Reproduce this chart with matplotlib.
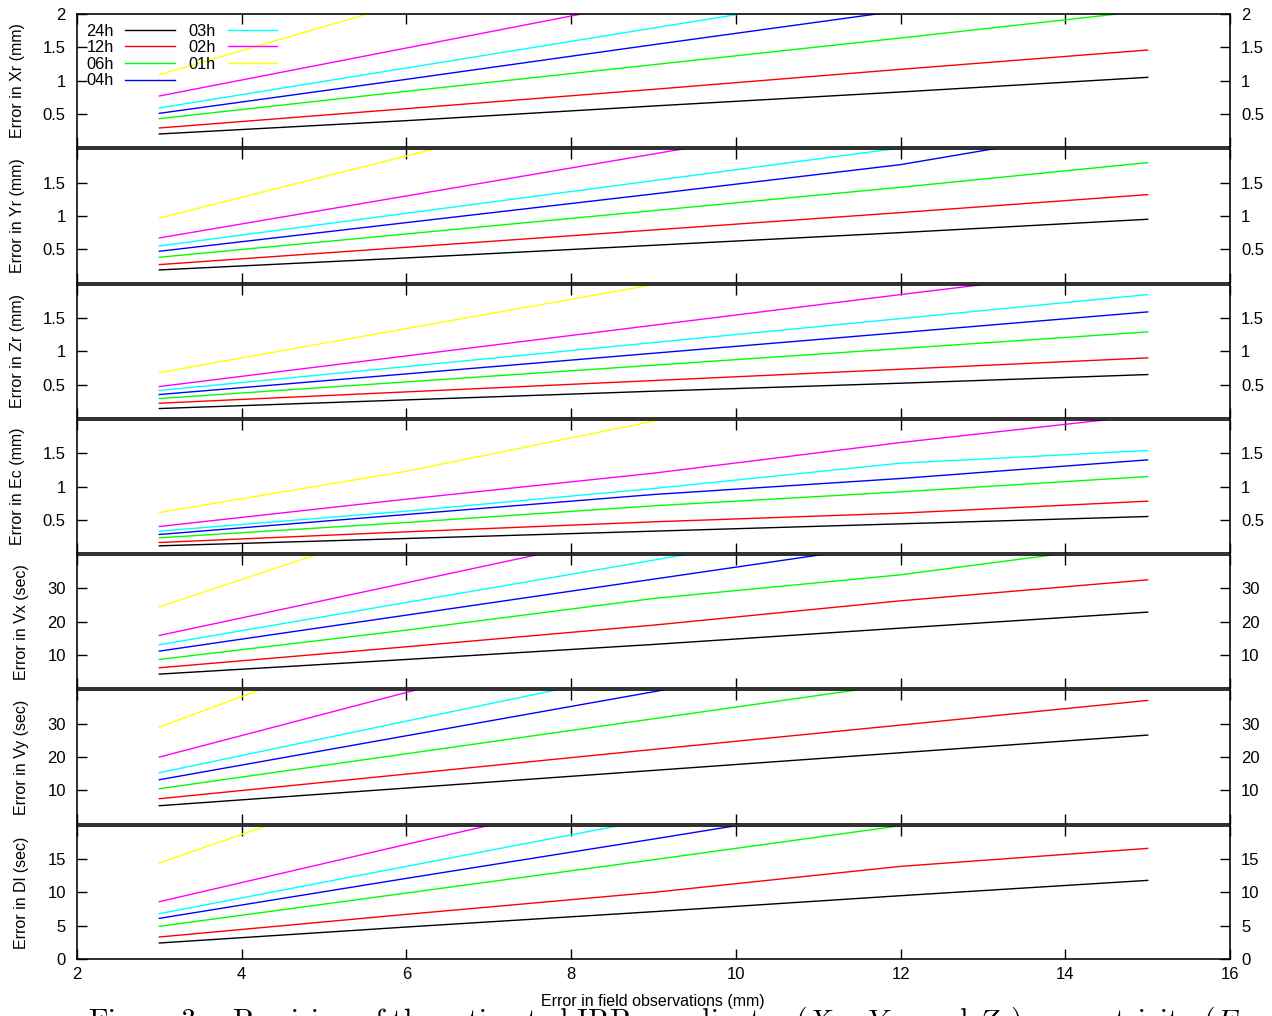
import numpy as np
import matplotlib
matplotlib.use('Agg')
import matplotlib.pyplot as plt

plt.rcParams['font.family'] = ['Liberation Sans', 'DejaVu Sans']
plt.rcParams['mathtext.fontset'] = 'cm'

# error in field observations (mm)
obs = [3, 6, 9, 12, 15]
series = ['24h', '12h', '06h', '04h', '03h', '02h', '01h']
colors = ['#000000', '#ff0000', '#00ff00', '#0000ff', '#00ffff', '#ff00ff', '#ffff00']

xr = [[0.20, 0.40, 0.62, 0.83, 1.05],
      [0.29, 0.58, 0.87, 1.17, 1.46],
      [0.43, 0.84, 1.24, 1.64, 2.05],
      [0.51, 1.02, 1.54, 2.05, 2.56],
      [0.59, 1.19, 1.79, 2.39, 2.99],
      [0.77, 1.49, 2.21, 2.93, 3.65],
      [1.09, 2.17, 3.25, 4.33, 5.41]]
yr = [[0.19, 0.37, 0.56, 0.75, 0.95],
      [0.27, 0.53, 0.79, 1.05, 1.32],
      [0.38, 0.73, 1.08, 1.43, 1.80],
      [0.47, 0.90, 1.33, 1.77, 2.40],
      [0.55, 1.04, 1.53, 2.02, 2.51],
      [0.67, 1.30, 1.93, 2.56, 3.19],
      [0.97, 1.90, 2.84, 3.77, 4.70]]
zr = [[0.14, 0.27, 0.40, 0.52, 0.65],
      [0.22, 0.39, 0.56, 0.73, 0.90],
      [0.29, 0.54, 0.79, 1.04, 1.29],
      [0.35, 0.66, 0.97, 1.28, 1.59],
      [0.41, 0.77, 1.13, 1.49, 1.85],
      [0.47, 0.93, 1.39, 1.85, 2.30],
      [0.68, 1.34, 2.00, 2.66, 3.31]]
ec = [[0.11, 0.22, 0.33, 0.44, 0.55],
      [0.16, 0.32, 0.47, 0.60, 0.78],
      [0.23, 0.46, 0.71, 0.92, 1.15],
      [0.28, 0.58, 0.88, 1.12, 1.40],
      [0.33, 0.63, 0.97, 1.35, 1.54],
      [0.40, 0.81, 1.20, 1.66, 2.07],
      [0.61, 1.23, 1.98, 2.75, 3.50]]
vx = [[4.3, 8.7, 13.2, 18.1, 22.9],
      [6.2, 12.5, 19.0, 26.3, 32.6],
      [8.7, 17.5, 27.0, 34.1, 43.8],
      [11.2, 22.0, 32.8, 43.6, 54.4],
      [13.1, 25.8, 38.5, 51.2, 63.9],
      [15.9, 31.7, 47.6, 63.4, 79.2],
      [24.5, 49.1, 73.7, 98.3, 122.9]]
vy = [[5.4, 10.7, 16.0, 21.3, 26.6],
      [7.5, 14.9, 22.3, 29.6, 37.0],
      [10.5, 21.0, 31.5, 42.0, 52.5],
      [13.2, 26.4, 39.6, 52.8, 66.0],
      [15.3, 30.8, 46.2, 61.7, 77.1],
      [20.0, 39.4, 58.7, 78.1, 97.4],
      [29.0, 56.5, 84.0, 111.5, 139.0]]
dl = [[2.4, 4.8, 7.1, 9.5, 11.8],
      [3.3, 6.7, 10.0, 13.9, 16.6],
      [4.9, 9.9, 14.9, 20.0, 25.0],
      [6.1, 12.1, 18.0, 24.0, 29.9],
      [6.8, 13.9, 21.0, 28.0, 35.1],
      [8.6, 17.2, 25.7, 34.3, 42.8],
      [14.4, 27.3, 40.2, 53.1, 66.0]]

panels = [xr, yr, zr, ec, vx, vy, dl]
ylabels = ['Error in Xr (mm)', 'Error in Yr (mm)', 'Error in Zr (mm)', 'Error in Ec (mm)',
           'Error in Vx (sec)', 'Error in Vy (sec)', 'Error in Dl (sec)']
ylims = [2, 2, 2, 2, 40, 40, 20]
yticks = [[0.5, 1, 1.5, 2], [0.5, 1, 1.5], [0.5, 1, 1.5], [0.5, 1, 1.5],
          [10, 20, 30], [10, 20, 30], [0, 5, 10, 15]]
yticklabels = [['0.5', '1', '1.5', '2'], ['0.5', '1', '1.5'], ['0.5', '1', '1.5'], ['0.5', '1', '1.5'],
               ['10', '20', '30'], ['10', '20', '30'], ['0', '5', '10', '15']]

fig, axes = plt.subplots(7, 1, figsize=(12.72, 10.16), dpi=100, sharex=True)
fig.subplots_adjust(left=0.0605, right=0.967, top=0.9862, bottom=0.0561, hspace=0.015)

for i, ax in enumerate(axes):
    for j in range(len(series)):
        ax.plot(obs, panels[i][j], color=colors[j], lw=1.0, label=series[j])
    ax.set_xlim(2, 16)
    ax.set_ylim(0, ylims[i])
    ax.set_yticks(yticks[i])
    ax.set_yticklabels(yticklabels[i])
    ax.set_xticks(range(2, 17, 2))
    ax.tick_params(direction='in', length=7, width=1, top=True, right=True,
                   labelright=True, labelsize=12, pad=8)
    for s in ax.spines.values():
        s.set_linewidth(1.15)
    ax.set_ylabel(ylabels[i], fontsize=11.5, labelpad=13)

axes[-1].set_xticklabels([str(v) for v in range(2, 17, 2)])
axes[-1].tick_params(axis='x', pad=6)

leg = axes[0].legend(ncol=2, loc='upper left', bbox_to_anchor=(0.0, 1.0), frameon=False,
                     markerfirst=False, fontsize=11.8, handlelength=3.0, handletextpad=0.7,
                     columnspacing=0.85, labelspacing=0.1, borderaxespad=0.18)

fig.text(0.513, 0.0145, 'Error in field observations (mm)', ha='center', va='center', fontsize=11.5)
fig.text(0.069, 0.0111,
         r'$\mathrm{Figure\ 3{:}\ \ Precision\ of\ the\ estimated\ IRP\ coordinates\ (}Xr,\ Yr,'
         r'\ \mathrm{and}\ Zr\mathrm{),\ eccentricity\ (}Ec$',
         ha='left', va='top', fontsize=21.5, zorder=0)

plt.savefig('out.png', dpi=100)
